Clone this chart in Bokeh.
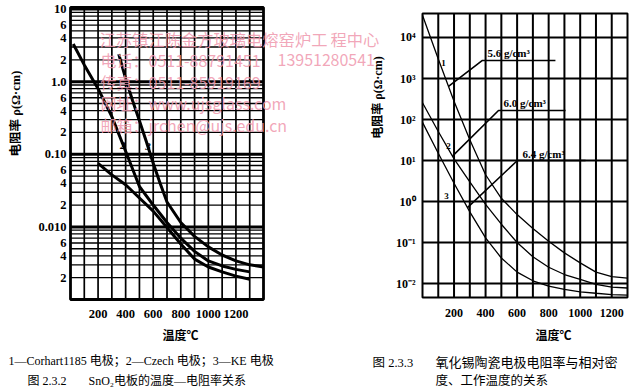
import numpy as np
from bokeh.plotting import figure
from bokeh.models import Range1d, FixedTicker, Label
from bokeh.layouts import row
from bokeh.embed import file_html
from bokeh.resources import INLINE
from bokeh.core.properties import value

# ---------------- Left chart (图 2.3.2) data ----------------
left_c1_T = [200, 300, 400, 500, 600, 700, 800, 900, 1000, 1100, 1200, 1300]
left_c1_rho = [0.075, 0.052, 0.038, 0.025, 0.0165, 0.0098, 0.0058, 0.0036, 0.0028, 0.0024, 0.0021, 0.0019]
left_c2_T = [20, 100, 200, 300, 400, 500, 600, 700, 800, 900, 1000, 1100, 1200, 1300]
left_c2_rho = [3.3, 1.7, 0.8, 0.33, 0.11, 0.036, 0.020, 0.0115, 0.0070, 0.0046, 0.0034, 0.0029, 0.0026, 0.0024]
left_c3_T = [350, 400, 450, 500, 550, 600, 650, 700, 800, 900, 1000, 1100, 1200, 1300, 1400]
left_c3_rho = [2.4, 1.1, 0.55, 0.29, 0.15, 0.075, 0.040, 0.022, 0.0115, 0.0074, 0.0053, 0.0041, 0.0034, 0.0030, 0.0028]
left_num_T = [379, 562]
left_num_rho = [0.13, 0.127]
left_num_text = ["2", "3"]
left_T_min, left_T_max = 0, 1400
left_rho_min, left_rho_max = 0.001, 10.5
left_x_ticks = [200, 400, 600, 800, 1000, 1200]
left_y_ticks = [10, 6, 4, 2, 1, 0.6, 0.4, 0.2, 0.1, 0.06, 0.04, 0.02, 0.01, 0.006, 0.004, 0.002]
left_y_labels = ["10", "6", "4", "2", "1.0", "6", "4", "2", "0.10", "6", "4", "2", "0.010", "6", "4", "2"]

# ---------------- Right chart (图 2.3.3) data ----------------
right_T = [0, 100, 200, 300, 400, 500, 600, 700, 800, 900, 1000, 1100, 1200, 1300]
right_c1_rho = [35000, 3000, 280, 32, 4.5, 1.2, 0.48, 0.22, 0.107, 0.056, 0.032, 0.019, 0.0148, 0.0135]
right_c2_rho = [257, 51, 11, 3.0, 0.85, 0.28, 0.10, 0.045, 0.025, 0.0166, 0.0126, 0.0095, 0.0082, 0.0078]
right_c3_rho = [85, 15, 2.8, 0.56, 0.13, 0.042, 0.019, 0.0117, 0.0087, 0.0072, 0.0063, 0.0058, 0.0054, 0.0052]
density_labels = ["5.6 g/cm³", "6.0 g/cm³", "6.4 g/cm³"]
leader_T0 = [165, 190, 285]
leader_T1 = [380, 482, 602]
leader_T2 = [843, 907, 1034]
leader_rho = [2750, 166, 10]
right_num_T = [133, 165, 152]
right_num_rho = [2450, 23, 1.4]
right_num_text = ["1", "2", "3"]
right_T_min, right_T_max = 0, 1300
right_rho_min, right_rho_max = 10 ** -2.34, 10 ** 4.585
right_x_ticks = [200, 400, 600, 800, 1000, 1200]
right_y_ticks = [1e4, 1e3, 1e2, 1e1, 1e0, 1e-1, 1e-2]
right_y_labels = ["10⁴", "10³", "10²", "10¹", "10⁰", "10⁻¹", "10⁻²"]

# ---------------- layout constants ----------------
H = 390
LEFT_W = 330
RIGHT_W = 302
FIG1_X0 = 0
FIG2_X0 = LEFT_W
LEFT_BOX = (70, 263, 7, 299)      # chart box in page px: left, right, top, bottom
RIGHT_BOX = (422, 627, 13, 297)
SERIF = "Liberation Serif, Noto Sans CJK SC"
CJK = "Noto Sans CJK SC"
PINK = "#ef97ad"
WM = "16px"


def box_ranges(box, fig_x0, fig_w, x0, x1, r0, r1):
    l, r, t, b = box[0] - fig_x0, box[1] - fig_x0, box[2], box[3]
    kx = (x1 - x0) / (r - l)
    xr = Range1d(x0 - l * kx, x1 + (fig_w - r) * kx)
    ly0, ly1 = np.log10(r0), np.log10(r1)
    ky = (ly1 - ly0) / (b - t)
    yr = Range1d(10 ** (ly0 - (H - b) * ky), 10 ** (ly1 + t * ky))
    return xr, yr


def add_label(p, fig_x0, page_x, page_y, text, size, font=SERIF, style="normal",
              align="left", angle=0.0, color="black", alpha=1.0):
    p.add_layout(Label(x=page_x - fig_x0, y=page_y, x_units="canvas", y_units="canvas",
                       text=text, text_font=font, text_font_size=size, text_font_style=style,
                       text_align=align, text_baseline="middle", angle=angle,
                       text_color=color, text_alpha=alpha))


def make_fig(w, xr, yr):
    p = figure(width=w, height=H, x_range=xr, y_range=yr, y_axis_type="log",
               output_backend="svg", toolbar_location=None)
    p.min_border = 0
    p.min_border_left = p.min_border_right = p.min_border_top = p.min_border_bottom = 0
    p.outline_line_color = None
    p.grid.visible = False
    p.background_fill_color = "white"
    p.border_fill_color = "white"
    return p


def style_axes(p, xticks, yticks, ylabels, size, ystandoff, xstandoff, x_at, y_at):
    for ax in (p.xaxis[0], p.yaxis[0]):
        ax.axis_line_color = None
        ax.major_tick_line_color = None
        ax.minor_tick_line_color = None
        ax.major_tick_out = 0
        ax.major_tick_in = 0
        ax.major_label_text_font = SERIF
        ax.major_label_text_font_style = "bold"
        ax.major_label_text_font_size = size
        ax.major_label_text_color = "black"
    p.xaxis[0].ticker = FixedTicker(ticks=xticks)
    p.yaxis[0].ticker = FixedTicker(ticks=yticks)
    p.yaxis[0].major_label_overrides = {float(v): s for v, s in zip(yticks, ylabels)}
    p.yaxis[0].major_label_standoff = ystandoff
    p.xaxis[0].major_label_standoff = xstandoff
    p.xaxis[0].fixed_location = x_at
    p.yaxis[0].fixed_location = y_at


def chart_grid(p, tmin, tmax, rmin, rmax, vlines, hlines, vw, box_w):
    p.segment(x0=vlines, y0=[rmin] * len(vlines), x1=vlines, y1=[rmax] * len(vlines),
              line_color="black", line_width=vw)
    for vals, width in hlines:
        p.segment(x0=[tmin] * len(vals), y0=vals, x1=[tmax] * len(vals), y1=vals,
                  line_color="black", line_width=width)
    p.quad(left=[tmin], right=[tmax], bottom=[rmin], top=[rmax], fill_color=None,
           line_color="black", line_width=box_w)


# ================= LEFT FIGURE =================
xr1, yr1 = box_ranges(LEFT_BOX, FIG1_X0, LEFT_W, left_T_min, left_T_max, left_rho_min, left_rho_max)
p1 = make_fig(LEFT_W, xr1, yr1)
style_axes(p1, left_x_ticks, left_y_ticks, left_y_labels, "12.5px", 4, 10, left_rho_min, left_T_min)

minor_vals = [m * 10.0 ** k for k in (-3, -2, -1, 0) for m in range(2, 10)]
decade_vals = [0.01, 0.1, 1.0, 10.0]
chart_grid(p1, left_T_min, left_T_max, left_rho_min, left_rho_max,
           list(range(100, 1400, 100)), [(minor_vals, 1.3), (decade_vals, 3)], 1.7, 2.8)

for T, r in ((left_c1_T, left_c1_rho), (left_c2_T, left_c2_rho), (left_c3_T, left_c3_rho)):
    p1.line(T, r, line_color="black", line_width=3, line_join="round")

p1.text(x=left_num_T, y=left_num_rho, text=left_num_text, text_font=value("Liberation Serif"),
        text_font_size="11px", text_font_style="bold italic", text_align="center",
        text_baseline="middle", text_color="black")

add_label(p1, FIG1_X0, 15, 113, "电阻率 ρ(Ω·cm)", "12.5px", style="bold", align="center", angle=np.pi / 2)
add_label(p1, FIG1_X0, 180, 335, "温度℃", "12px", style="bold", align="center")
add_label(p1, FIG1_X0, 8, 360, "1—Corhart1185 电极；2—Czech 电极；3—KE 电极", "12px")
add_label(p1, FIG1_X0, 27, 380, "图 2.3.2", "12px")
add_label(p1, FIG1_X0, 88, 380, "SnO₂电板的温度—电阻率关系", "12px")

# watermark (left part)
add_label(p1, FIG1_X0, 99, 38, "江苏镇江陈金方玻璃电熔窑炉工", "16.3px", font=CJK, color=PINK, alpha=0.85)
add_label(p1, FIG1_X0, 100, 59, "电话：0511-88791451", WM, font=CJK, color=PINK, alpha=0.85)
add_label(p1, FIG1_X0, 277, 59, "139512", WM, font=CJK, color=PINK, alpha=0.85)
add_label(p1, FIG1_X0, 100, 81, "传真：0511-85919169", WM, font=CJK, color=PINK, alpha=0.85)
add_label(p1, FIG1_X0, 100, 102, "网址：www.ujsglass.com", WM, font=CJK, color=PINK, alpha=0.85)
add_label(p1, FIG1_X0, 100, 124, "邮箱：jrchen@ujs.edu.cn", WM, font=CJK, color=PINK, alpha=0.85)

# ================= RIGHT FIGURE =================
xr2, yr2 = box_ranges(RIGHT_BOX, FIG2_X0, RIGHT_W, right_T_min, right_T_max, right_rho_min, right_rho_max)
p2 = make_fig(RIGHT_W, xr2, yr2)
style_axes(p2, right_x_ticks, right_y_ticks, right_y_labels, "12px", 7, 11, right_rho_min, right_T_min)

chart_grid(p2, right_T_min, right_T_max, right_rho_min, right_rho_max,
           list(range(100, 1300, 100)), [(right_y_ticks, 2)], 2, 2)

for r in (right_c1_rho, right_c2_rho, right_c3_rho):
    p2.line(right_T, r, line_color="black", line_width=1.3)

curves_log = [np.log10(right_c1_rho), np.log10(right_c2_rho), np.log10(right_c3_rho)]
for i in range(3):
    r0 = 10 ** np.interp(leader_T0[i], right_T, curves_log[i])
    p2.line([leader_T0[i], leader_T1[i], leader_T2[i]], [r0, leader_rho[i], leader_rho[i]],
            line_color="black", line_width=1.6)

p2.text(x=leader_T1, y=leader_rho, text=density_labels, text_font=value("Liberation Serif"),
        text_font_size="11px", text_font_style="bold", text_align="left", text_baseline="bottom",
        x_offset=5, y_offset=-1, text_color="black")
p2.text(x=right_num_T, y=right_num_rho, text=right_num_text, text_font=value("Liberation Serif"),
        text_font_size="9px", text_font_style="bold", text_align="center", text_baseline="middle",
        text_color="black")

add_label(p2, FIG2_X0, 377, 97, "电阻率 ρ(Ω·cm)", "12px", style="bold", align="center", angle=np.pi / 2)
add_label(p2, FIG2_X0, 553, 335, "温度℃", "12px", style="bold", align="center")
add_label(p2, FIG2_X0, 372, 362, "图 2.3.3", "12.5px")
add_label(p2, FIG2_X0, 435, 362, "氧化锡陶瓷电极电阻率与相对密", "13px")
add_label(p2, FIG2_X0, 435, 380, "度、工作温度的关系", "12.5px")

# watermark (right part)
add_label(p2, FIG2_X0, 330, 38, "程中心", "16.3px", font=CJK, color=PINK, alpha=0.85)
add_label(p2, FIG2_X0, 330, 59, "80541", WM, font=CJK, color=PINK, alpha=0.85)

layout = row(p1, p2)
open("out.html", "w").write(file_html(layout, INLINE))
